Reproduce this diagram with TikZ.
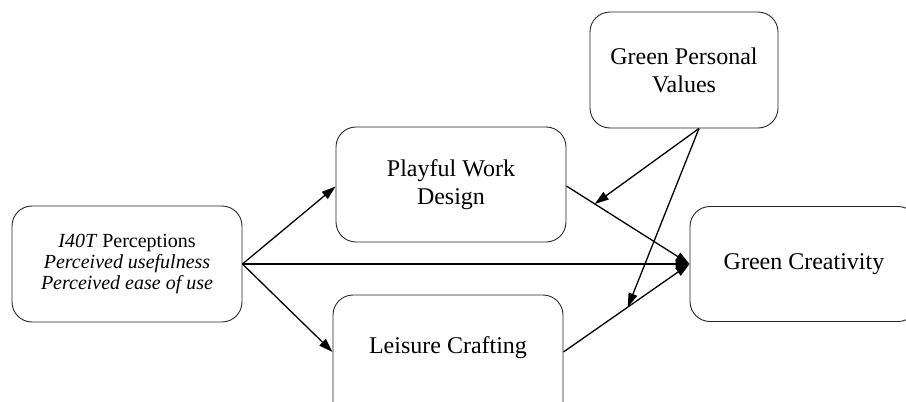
\documentclass[tikz,border=0pt]{standalone}
\usepackage{fontspec}
\setmainfont{Liberation Serif}
\usetikzlibrary{arrows.meta,calc}
\begin{document}
\begin{tikzpicture}[x=1pt,y=-1pt,
  box/.style={draw=black!85,line width=0.9pt,rounded corners=20pt,align=center,
    inner sep=0pt,font=\fontsize{24}{28}\selectfont},
  conn/.style={line width=1.3pt,-{Triangle[length=14pt,width=9pt]}}]
\useasboundingbox (0,0) rectangle (906,402);
\clip (0,0) rectangle (906,402);
\node[box,minimum width=230pt,minimum height=116pt,font=\fontsize{20}{21}\selectfont] (I) at (127,264)
  {\textit{I40T} Perceptions\\\textit{Perceived usefulness}\\\textit{Perceived ease of use}};
\node[box,minimum width=230pt,minimum height=115pt] (P) at (451,184.5) {Playful Work\\Design};
\node[box,minimum width=188pt,minimum height=116pt] (V) at (684,70) {Green Personal\\Values};
\node[box,minimum width=228pt,minimum height=115pt] (G) at (804,264) {Green Creativity};
\node[box,minimum width=230pt,minimum height=130pt,text height=16pt,text depth=30pt] (L) at (448,360) {Leisure Crafting};
\draw[conn] (I.east) -- ([yshift=-2pt]P.west);
\draw[conn] (I.east) -- ([yshift=8pt]L.west);
\draw[conn,line width=1.6pt] (I.east) -- (G.west);
\draw[conn] ([yshift=-1.5pt]P.east) -- (G.west);
\draw[conn] ([yshift=8pt]L.east) -- (G.west);
\draw[conn] ([xshift=15pt]V.south) -- ($([yshift=-1.5pt]P.east)!0.23!(G.west)$);
\draw[conn] ([xshift=15pt]V.south) -- ($([yshift=8pt]L.east)!0.51!(G.west)$);
\end{tikzpicture}
\end{document}
